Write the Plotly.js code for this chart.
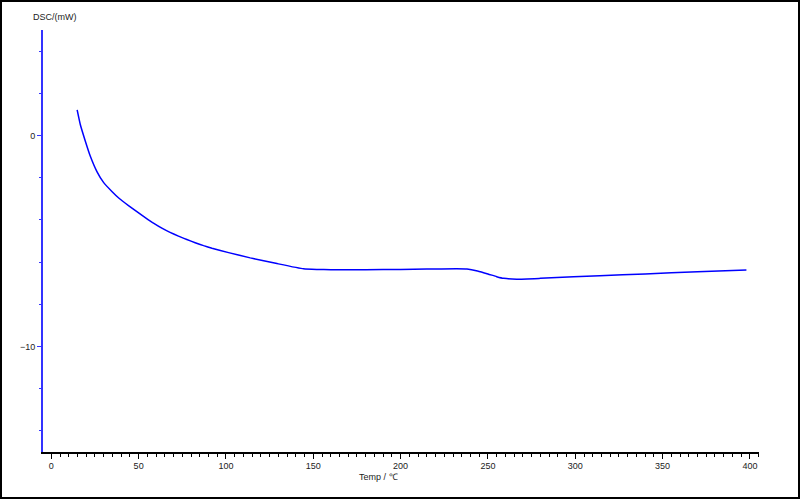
<!DOCTYPE html>
<html>
<head>
<meta charset="utf-8">
<script src="https://cdn.plot.ly/plotly-3.0.1.min.js"></script>
<style>
  html, body { margin: 0; padding: 0; background: #fff; }
  #wrap { position: relative; width: 800px; height: 499px; }
  #chart { position: absolute; left: 0; top: 0; width: 800px; height: 499px; }
  #frame { position: absolute; left: 0; top: 0; width: 798px; height: 497px; border: 1px solid #000; box-shadow: inset 0 0 0 1px #000; pointer-events: none; }
</style>
</head>
<body>
<div id="wrap"><div id="chart"></div><div id="frame"></div></div>
<script>
const temp = [14.8, 16.6, 19.5, 22.3, 26.2, 29.9, 34.7, 39.1, 44.2, 49, 53.8, 58.5, 63.3, 68, 72.8, 77.6, 82.4, 87.2, 92, 101.5, 113.9, 129.2, 144.4, 152, 160, 180, 200, 215, 232, 238, 244, 250, 255, 259, 266.5, 280, 299, 314, 340, 370, 398];
const dsc = [1.21, 0.52, -0.27, -0.97, -1.72, -2.22, -2.65, -3.00, -3.32, -3.61, -3.89, -4.15, -4.39, -4.59, -4.77, -4.93, -5.08, -5.22, -5.34, -5.55, -5.80, -6.07, -6.32, -6.35, -6.36, -6.36, -6.35, -6.33, -6.32, -6.33, -6.42, -6.56, -6.69, -6.77, -6.81, -6.77, -6.70, -6.65, -6.56, -6.46, -6.37];
const yTitle = "DSC/(mW)";
const xTitle = "Temp / ℃";

const font = {family: "Liberation Sans, Arial, sans-serif", size: 9, color: "#222"};

Plotly.newPlot("chart", [{
  x: temp, y: dsc, type: "scatter", mode: "lines",
  line: {color: "#0000ff", width: 1.5, shape: "spline", smoothing: 0.4},
  hoverinfo: "skip"
}], {
  width: 800, height: 499,
  margin: {l: 43, r: 41, t: 30, b: 47},
  paper_bgcolor: "#fff", plot_bgcolor: "#fff",
  showlegend: false,
  font: font,
  xaxis: {
    range: [-4.75, 405.2], showgrid: false, zeroline: false,
    showline: true, linecolor: "#000", linewidth: 1.5,
    ticks: "outside", ticklen: 5, tickcolor: "#000", tickwidth: 1,
    dtick: 50, tick0: 0, tickfont: font,
    minor: {dtick: 5, tick0: 0, ticks: "outside", ticklen: 3, tickcolor: "#000", tickwidth: 1}
  },
  yaxis: {
    range: [-15, 5], showgrid: false, zeroline: false,
    showline: true, linecolor: "#3333ff", linewidth: 2,
    ticks: "outside", ticklen: 4, tickcolor: "#3333ff", tickwidth: 1,
    dtick: 10, tick0: 0, tickfont: font,
    minor: {dtick: 2, tick0: 0, ticks: "outside", ticklen: 2, tickcolor: "#3333ff", tickwidth: 1}
  },
  annotations: [
    {text: yTitle, xref: "paper", yref: "paper", x: -0.0172, y: 1.0315, xanchor: "left", yanchor: "middle", showarrow: false, font: font},
    {text: xTitle, xref: "paper", yref: "paper", x: 0.468, y: -0.059, xanchor: "center", yanchor: "middle", showarrow: false, font: font}
  ]
}, {staticPlot: true});
</script>
</body>
</html>
